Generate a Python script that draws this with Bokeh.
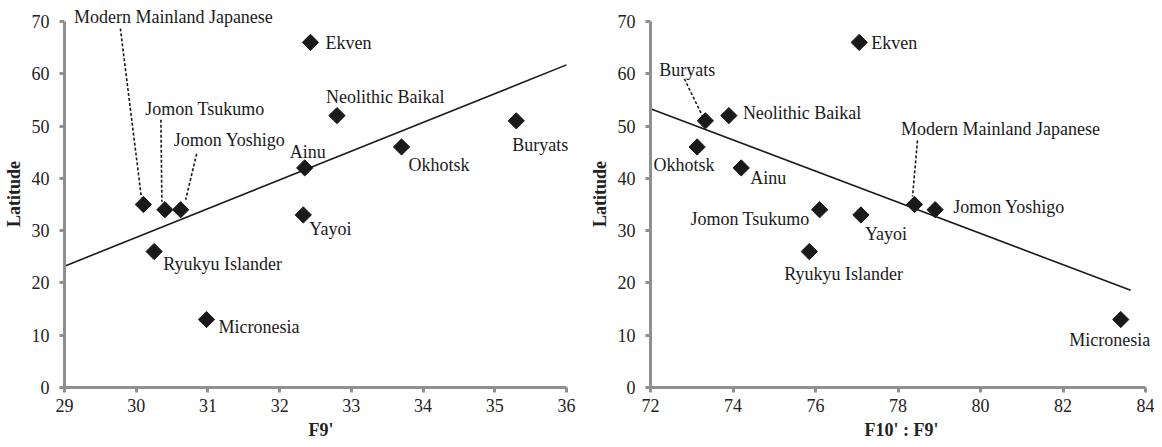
import numpy as np
from bokeh.plotting import figure
from bokeh.layouts import row
from bokeh.models import ColumnDataSource, Range1d, FixedTicker
from bokeh.core.properties import value
from bokeh.embed import file_html
from bokeh.resources import INLINE

# ---------------- data ----------------
populations = ["Ekven", "Neolithic Baikal", "Buryats", "Okhotsk", "Ainu",
               "Modern Mainland Japanese", "Jomon Tsukumo", "Jomon Yoshigo",
               "Yayoi", "Ryukyu Islander", "Micronesia"]
latitude = [66, 52, 51, 46, 42, 35, 34, 34, 33, 26, 13]
f9 = [32.43, 32.8, 35.3, 33.7, 32.35, 30.1, 30.4, 30.62, 32.33, 30.25, 30.98]
f10_f9 = [77.06, 73.9, 73.33, 73.13, 74.2, 78.4, 76.1, 78.9, 77.1, 75.85, 83.4]

trend_left_x = [29, 36]
trend_left_y = [23.2, 61.7]
trend_right_x = [72, 83.64]
trend_right_y = [53.3, 18.6]

x_ticks_left = [29, 30, 31, 32, 33, 34, 35, 36]
x_ticks_right = [72, 74, 76, 78, 80, 82, 84]
y_ticks = [0, 10, 20, 30, 40, 50, 60, 70]

# ---------------- label styling (pixel offsets, screen y down) ----------------
labels_left = {
    "Ekven": ("left", 15, 1, None),
    "Neolithic Baikal": ("left", -11, -19, None),
    "Ainu": ("center", 3, -16, None),
    "Yayoi": ("left", 6, 14, None),
    "Ryukyu Islander": ("left", 9, 12, None),
    "Micronesia": ("left", 12, 7, None),
    "Okhotsk": ("left", 7, 18, None),
    "Buryats": ("center", 24, 24, None),
    "Modern Mainland Japanese": ("center", 30, -187, (-23, -176, -2, -7)),
    "Jomon Tsukumo": ("center", 40, -101, (-4, -90, -3, -8)),
    "Jomon Yoshigo": ("center", 49, -70, (16, -56, 5, -10)),
}
labels_right = {
    "Ekven": ("left", 12, 1, None),
    "Buryats": ("center", -18, -51, (-21, -42, -3, -5)),
    "Neolithic Baikal": ("left", 14, -3, None),
    "Okhotsk": ("center", -13, 18, None),
    "Ainu": ("left", 9, 10, None),
    "Jomon Tsukumo": ("right", -10, 9, None),
    "Yayoi": ("left", 4, 19, None),
    "Ryukyu Islander": ("left", -25, 22, None),
    "Modern Mainland Japanese": ("center", 86, -75, (3, -64, -2, -8)),
    "Jomon Yoshigo": ("left", 18, -3, None),
    "Micronesia": ("center", -11, 20, None),
}

FONT = "Times New Roman, Liberation Serif, serif"
AXIS_GRAY = "#8f8f8f"
INK = "#1a1a1a"

FRAME_H = 387
Y_PX = 5.229
Y_END = FRAME_H / Y_PX


def make_panel(xvals, xlabel, xstart, xend_axis, px_x, frame_w, bl, br,
               xticks, labels, tx, ty):
    x_end = xstart + frame_w / px_x
    p = figure(frame_width=frame_w, frame_height=FRAME_H, output_backend="svg",
               toolbar_location=None,
               x_range=Range1d(xstart, x_end), y_range=Range1d(0, Y_END),
               min_border_left=bl, min_border_right=br,
               min_border_top=0, min_border_bottom=56)
    p.outline_line_color = None
    p.xgrid.visible = False
    p.ygrid.visible = False
    p.background_fill_color = "white"
    p.border_fill_color = "white"

    for ax in (p.xaxis[0], p.yaxis[0]):
        ax.axis_line_color = AXIS_GRAY
        ax.axis_line_width = 3
        ax.major_tick_line_color = AXIS_GRAY
        ax.major_tick_line_width = 3
        ax.major_tick_in = 0
        ax.major_tick_out = 5
        ax.minor_tick_line_color = None
        ax.major_label_text_font = FONT
        ax.major_label_text_font_size = "18px"
        ax.major_label_text_color = "#222222"
        ax.axis_label_text_font = FONT
        ax.axis_label_text_font_size = "18px"
        ax.axis_label_text_font_style = "bold"
        ax.axis_label_text_color = "#222222"

    p.xaxis.bounds = (xstart, xend_axis)
    p.xaxis.ticker = FixedTicker(ticks=xticks)
    p.xaxis.major_label_standoff = 6
    p.xaxis.axis_label = xlabel
    p.xaxis.axis_label_standoff = 5

    p.yaxis.bounds = (0, 70)
    p.yaxis.ticker = FixedTicker(ticks=y_ticks)
    p.yaxis.major_label_standoff = 10
    p.yaxis.axis_label = "Latitude"
    p.yaxis.axis_label_standoff = 5

    # trend line
    p.line(tx, ty, line_color=INK, line_width=1.6)

    # leader lines (converted from pixel offsets)
    x0, y0, x1, y1 = [], [], [], []
    for name, xv, yv in zip(populations, xvals, latitude):
        lead = labels[name][3]
        if lead is not None:
            sx, sy, ex, ey = lead
            x0.append(xv + sx / px_x)
            y0.append(yv - sy / Y_PX)
            x1.append(xv + ex / px_x)
            y1.append(yv - ey / Y_PX)
    if x0:
        p.segment(x0, y0, x1, y1, line_color=INK, line_width=1.6, line_dash="3 2")

    # markers
    src = ColumnDataSource(dict(x=xvals, y=latitude))
    p.scatter("x", "y", source=src, marker="square", size=11.5, angle=np.pi / 4,
              fill_color=INK, line_color=INK)

    # labels grouped by alignment
    for align in ("left", "center", "right"):
        d = dict(x=[], y=[], t=[], dx=[], dy=[])
        for name, xv, yv in zip(populations, xvals, latitude):
            a, dx, dy, _ = labels[name]
            if a == align:
                d["x"].append(xv)
                d["y"].append(yv)
                d["t"].append(name)
                d["dx"].append(dx)
                d["dy"].append(dy)
        if d["x"]:
            p.text("x", "y", text="t", x_offset="dx", y_offset="dy",
                   source=ColumnDataSource(d), text_font=value(FONT),
                   text_font_size="18px", text_color=INK,
                   text_align=align, text_baseline="middle")
    return p


p1 = make_panel(f9, "F9'", 29, 36, 71.71, 513, 58, 9, x_ticks_left,
                labels_left, trend_left_x, trend_left_y)
p2 = make_panel(f10_f9, "F10' : F9'", 72, 84, 41.25, 502, 62, 2, x_ticks_right,
                labels_right, trend_right_x, trend_right_y)

layout = row(p1, p2)
open("out.html", "w").write(file_html(layout, INLINE))
